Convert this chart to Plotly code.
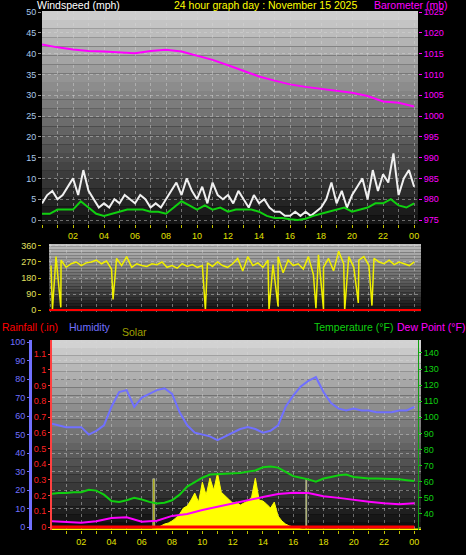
import numpy as np
import plotly.graph_objects as go

W, H = 466, 555
FONT = "Liberation Sans"

# ---- data ----
hour_ticks = list(range(0, 25))
hour_labels = ["" if h % 2 or h == 0 else ("00" if h == 24 else f"{h:02d}") for h in hour_ticks]

baro_hours = list(range(0, 25))
baro_mb = [1017.2, 1016.5, 1016.0, 1015.6, 1015.5, 1015.3, 1015.1, 1015.6, 1015.9, 1015.5,
           1014.5, 1013.5, 1012.2, 1010.9, 1009.5, 1008.5, 1007.6, 1007.0, 1006.5, 1006.0,
           1005.6, 1004.8, 1003.5, 1003.2, 1002.3]

wind_avg = [1.5, 1.5, 2.5, 2.5, 2.5, 4.5, 3, 1.5, 1.0, 1.5, 2.0, 2.5, 2.5, 2.5, 2.0, 2.0, 1.5,
            3, 4.5, 3.5, 2.5, 3.5, 2.5, 3, 2, 2.5, 2.5, 2.5, 2, 1, 0.5, 0.5, 0.2, 0, 0.3, 1,
            1.5, 2, 2.5, 3, 2, 2.5, 3, 4, 4, 5, 3.5, 3, 4]          # every 30 min
wind_gust = [4, 6, 7, 5, 6, 8, 10, 6, 12, 7,
             5, 3, 4, 3, 5, 4, 6, 5, 4, 6,
             5, 3, 4, 3, 5, 7, 9, 6, 10, 7,
             5, 8, 4, 9, 6, 5, 6, 4, 7, 5,
             3, 6, 4, 5, 3, 2, 2, 1, 1, 2,
             1, 2, 1, 2, 3, 5, 9, 4, 7, 3,
             6, 8, 10, 5, 12, 7, 11, 9, 16, 6,
             10, 12, 8]                                              # every 20 min

wind_dir = [250, 300, 280, 240, 260, 270, 250, 265, 270, 280,
            260, 275, 230, 290, 250, 300, 240, 260, 250, 245,
            260, 255, 270, 240, 250, 235, 260, 245, 255, 240,
            250, 265, 245, 270, 250, 240, 260, 290, 220, 300,
            250, 265, 240, 280, 255, 300, 210, 280, 250, 260,
            230, 300, 200, 310, 240, 290, 220, 330, 260, 300,
            240, 280, 300, 250, 290, 270, 260, 280, 255, 270,
            260, 250, 270]                                           # every 20 min
dir_spike_hours = [0.1, 0.65, 4.1, 10.2, 14.4, 15.0, 17.5, 18.0, 19.4, 20.3, 21.2]
dir_spike_deg = [5, 15, 60, 0, 0, 20, 10, 5, 0, 40, 25]

humidity = [56, 55, 54, 54, 54, 50, 52, 55, 65, 73,
            74, 65, 70, 72, 74, 75, 72, 62, 55, 51,
            50, 49, 47, 49, 51, 53, 54, 53, 51, 52,
            55, 65, 71, 76, 79, 81, 73, 67, 64, 63,
            64, 63, 63, 62, 62, 62, 63, 63, 65]                      # every 30 min
temperature = [52.5, 53, 53, 53.5, 53.5, 55, 54.5, 52, 48, 47.5,
               48.5, 50, 49, 47.5, 46.5, 47, 48.5, 52, 57, 60,
               62.5, 64.5, 64.8, 65, 65.5, 65.5, 66.3, 67, 69, 69.5,
               68.8, 66, 63.5, 62.5, 61.5, 60, 62, 63, 64, 64.5,
               63, 62.5, 62, 62, 61.9, 61.5, 61.5, 61, 60.5]         # every 30 min
dew_point = [35.6, 35, 34.6, 35.5, 37.5, 38, 35.2, 35.8, 38.8, 40, 42.5, 44.5, 46.6,
             48.7, 50.5, 52.4, 53.2, 53, 51, 50, 48.7, 47.6, 46.6, 46, 46.6]  # hourly
rain_hours = list(range(0, 25))
rainfall = [0.0] * 25

solar = [0, 13, 26, 38, 45, 58, 77, 102, 141, 154, 192, 237, 179, 307, 224, 333, 256,
         365, 243, 218, 192, 173, 179, 160, 173, 186, 211, 333, 192, 186, 166, 141, 179,
         90, 58, 38, 26, 19, 13, 6, 0]                                # every 15 min from 6:45
solar_start = 6.75
sun_marks_hours = [6.8, 16.9]
sun_marks_val = [330, 330]


def step_hours(vals, step, start=0.0):
    return start + np.arange(len(vals)) * step


def px_x(px):
    return px / W


def px_y(px):
    return 1 - px / H


fig = go.Figure()

# panel 1: wind + barometer
fig.add_trace(go.Scatter(x=step_hours(wind_gust, 1 / 3), y=wind_gust, mode="lines",
                         line=dict(color="#f0f0f0", width=2), xaxis="x", yaxis="y"))
fig.add_trace(go.Scatter(x=step_hours(wind_avg, 0.5), y=wind_avg, mode="lines",
                         line=dict(color="#10d010", width=2), xaxis="x", yaxis="y"))
fig.add_trace(go.Scatter(x=baro_hours, y=baro_mb, mode="lines",
                         line=dict(color="#ff00ff", width=2), xaxis="x", yaxis="y2"))

# panel 2: wind direction
dh = list(step_hours(wind_dir, 1 / 3)) + dir_spike_hours
dv = list(wind_dir) + dir_spike_deg
order = np.argsort(dh)
fig.add_trace(go.Scatter(x=np.array(dh)[order], y=np.array(dv)[order], mode="lines",
                         line=dict(color="#f0f000", width=1.5), xaxis="x2", yaxis="y3"))

# panel 3: solar (base), humidity, rain, temperature, dew point
fig.add_trace(go.Scatter(x=step_hours(solar, 0.25, solar_start), y=solar, mode="lines",
                         fill="tozeroy", fillcolor="#ffff00", line=dict(color="#ffff00", width=1),
                         xaxis="x3", yaxis="y5"))
fig.add_trace(go.Bar(x=sun_marks_hours, y=sun_marks_val, width=0.08, marker_color="#a0a000",
                     xaxis="x3", yaxis="y5"))
fig.add_trace(go.Scatter(x=[0, 24.5], y=[0, 0], mode="lines", line=dict(color="#ffff00", width=3),
                         xaxis="x3", yaxis="y5"))
fig.add_trace(go.Scatter(x=step_hours(humidity, 0.5), y=humidity, mode="lines",
                         line=dict(color="#7070ff", width=2), xaxis="x3", yaxis="y6"))
fig.add_trace(go.Scatter(x=rain_hours, y=rainfall, mode="lines",
                         line=dict(color="#ff0000", width=3), xaxis="x3", yaxis="y7"))
fig.add_trace(go.Scatter(x=step_hours(temperature, 0.5), y=temperature, mode="lines",
                         line=dict(color="#10d010", width=2), xaxis="x3", yaxis="y8"))
fig.add_trace(go.Scatter(x=list(range(25)), y=dew_point, mode="lines",
                         line=dict(color="#ff00ff", width=2), xaxis="x3", yaxis="y8"))

# gradient backgrounds
shapes = []
panels = [("x", "y", (205, 205, 205), (20, 20, 20)),
          ("x2", "y3", (190, 190, 190), (15, 15, 15)),
          ("x3", "y5", (210, 210, 210), (15, 15, 15))]
n = 24
for xa, ya, top, bot in panels:
    for i in range(n):
        t = i / (n - 1)
        c = tuple(int(top[k] + (bot[k] - top[k]) * t) for k in range(3))
        shapes.append(dict(type="rect", xref=f"{xa} domain", yref=f"{ya} domain",
                           x0=0, x1=1, y0=1 - (i + 1) / n, y1=1 - i / n,
                           fillcolor=f"rgb{c}", line_width=0, layer="below"))
shapes.append(dict(type="line", xref="x2 domain", yref="y3", x0=0, x1=1, y0=0, y1=0,
                   line=dict(color="#ff0000", width=2)))
fig.update_layout(shapes=shapes)

grid = dict(showgrid=True, gridcolor="rgba(215,215,215,0.45)", griddash="dot", gridwidth=1)
xcommon = dict(tickvals=hour_ticks, ticktext=hour_labels, tickfont=dict(family=FONT, size=9, color="#e0e000"),
               ticks="outside", ticklen=3, tickcolor="#c0c000", zeroline=False, **grid)

fig.update_layout(
    width=W, height=H, paper_bgcolor="black", plot_bgcolor="black",
    margin=dict(l=0, r=0, t=0, b=0, autoexpand=False), showlegend=False, bargap=0,
    xaxis=dict(domain=[px_x(42), px_x(418)], range=[0, 24.25], anchor="y", **xcommon),
    yaxis=dict(domain=[px_y(224), px_y(11)], range=[-0.96, 50.24], dtick=5,
               tickfont=dict(family=FONT, size=9, color="#a8c8e8"), ticks="outside", ticklen=3,
               tickcolor="#909090", zeroline=False, **grid),
    yaxis2=dict(overlaying="y", side="right", range=[974.04, 1025.24], dtick=5,
                tickfont=dict(family=FONT, size=9, color="#ff00ff"), ticks="outside", ticklen=3,
                tickcolor="#ff00ff", showgrid=False, zeroline=False),
    xaxis2=dict(domain=[px_x(49), px_x(421)], range=[-0.13, 24.44], anchor="y3",
                tickvals=hour_ticks, showticklabels=False, zeroline=False, **grid),
    yaxis3=dict(domain=[px_y(312), px_y(244)], range=[-11, 371], tickvals=[0, 90, 180, 270, 360],
                tickfont=dict(family=FONT, size=9, color="#e0e060"), ticks="outside", ticklen=3,
                tickcolor="#c0c000", zeroline=False, **grid),
    yaxis4=dict(overlaying="y3", side="right", range=[-11, 371], tickvals=[0, 90, 180, 270, 360],
                ticktext=["N", "E", "S", "W", "N"], tickfont=dict(family=FONT, size=12, color="#f0f000"),
                ticklabelstandoff=12, showgrid=False, zeroline=False),
    xaxis3=dict(domain=[px_x(52), px_x(421)], range=[0.07, 24.44], anchor="y5", **xcommon),
    yaxis5=dict(domain=[px_y(530), px_y(340)], range=[0, 1220], showticklabels=False,
                showgrid=False, zeroline=False, ticks=""),
    yaxis6=dict(overlaying="y5", anchor="free", position=px_x(30), side="left", range=[-1.6, 101.1],
                dtick=10, tickfont=dict(family=FONT, size=9, color="#7070ff"), showline=True,
                linecolor="#7070ff", linewidth=3, ticks="outside", ticklen=2, tickcolor="#7070ff",
                zeroline=False, **grid),
    yaxis7=dict(overlaying="y5", anchor="free", position=px_x(51), side="left", range=[-0.019, 1.19],
                tickvals=[0, 0.1, 0.2, 0.3, 0.4, 0.5, 0.6, 0.7, 0.8, 0.9, 1, 1.1, 1.2],
                ticktext=["0", "0.1", "0.2", "0.3", "0.4", "0.5", "0.6", "0.7", "0.8", "0.9", "1", "1.1", "1.2"],
                tickfont=dict(family=FONT, size=9, color="#ff2020"), showline=True,
                linecolor="#ff4040", linewidth=2, ticks="outside", ticklen=2, tickcolor="#ff4040",
                showgrid=False, zeroline=False),
    yaxis8=dict(overlaying="y5", side="right", range=[30.06, 148],
                tickvals=list(range(40, 141, 10)),
                tickfont=dict(family=FONT, size=9, color="#10d010"), showline=True, linecolor="#10a010",
                ticks="outside", ticklen=3, tickcolor="#10d010", showgrid=False, zeroline=False),
)

ann = [("Windspeed (mph)", 35, 5, "#ffffff"),
       ("24 hour graph day : November 15 2025", 172, 5, "#ffff00"),
       ("Barometer (mb)", 372, 5, "#ff00ff"),
       ("Rainfall (.in)", 0, 327, "#ff0000"),
       ("Humidity", 67, 327, "#7070ff"),
       ("Solar", 120, 332, "#a0a000"),
       ("Temperature (°F)", 312, 327, "#10d010"),
       ("Dew Point (°F)", 395, 327, "#ff00ff")]
for text, x, y, col in ann:
    fig.add_annotation(text=text, x=px_x(x), y=px_y(y), xref="paper", yref="paper",
                       xanchor="left", yanchor="middle", showarrow=False,
                       font=dict(family=FONT, size=10.5, color=col))

# drop the default page margin so the figure sits at the window's corner
fig.write_html("out.html", config={"displayModeBar": False},
               post_script="document.body.style.margin='0';document.body.style.background='black';")
